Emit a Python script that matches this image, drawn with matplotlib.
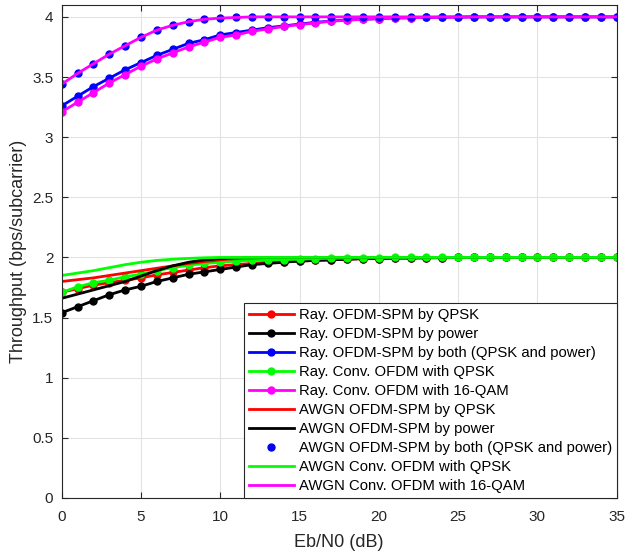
import numpy as np
import matplotlib
matplotlib.use('Agg')
from matplotlib import pyplot as plt

plt.rcParams['font.family'] = ['Liberation Sans', 'DejaVu Sans']

ebn0 = np.arange(0, 36)

def pad(vals, last, n=36):
    return vals + [last] * (n - len(vals))

# Rayleigh curves (with markers)
ray_spm_qpsk = pad([1.71, 1.74, 1.77, 1.79, 1.81, 1.83, 1.855, 1.875, 1.895, 1.915, 1.93, 1.94,
                    1.95, 1.96, 1.965, 1.97, 1.975, 1.98, 1.985, 1.99, 1.99, 1.995, 1.995, 1.997, 1.998], 2.0)
ray_spm_power = pad([1.54, 1.59, 1.64, 1.69, 1.73, 1.76, 1.80, 1.83, 1.86, 1.88, 1.90, 1.92,
                     1.94, 1.95, 1.96, 1.97, 1.975, 1.98, 1.985, 1.99, 1.99, 1.995, 1.995, 1.997, 1.998], 2.0)
ray_spm_both = pad([3.26, 3.34, 3.42, 3.49, 3.56, 3.62, 3.68, 3.73, 3.78, 3.81, 3.85, 3.87, 3.89,
                    3.91, 3.925, 3.94, 3.955, 3.965, 3.975, 3.98, 3.985, 3.99, 3.993, 3.995, 3.997, 3.998], 4.0)
ray_conv_qpsk = pad([1.71, 1.755, 1.79, 1.81, 1.84, 1.86, 1.89, 1.915, 1.935, 1.95, 1.96, 1.97,
                     1.975, 1.98, 1.982, 1.985, 1.99, 1.993, 1.995, 1.997, 1.998], 2.0)
ray_conv_16qam = pad([3.21, 3.29, 3.37, 3.45, 3.52, 3.59, 3.65, 3.70, 3.75, 3.79, 3.83, 3.85, 3.88,
                      3.90, 3.92, 3.936, 3.95, 3.964, 3.972, 3.98, 3.986, 3.99, 3.993, 3.995, 3.997, 3.998], 4.0)

# AWGN curves
awgn_spm_qpsk = pad([1.80, 1.815, 1.83, 1.85, 1.87, 1.89, 1.91, 1.93, 1.95, 1.965, 1.98, 1.99, 1.995], 2.0)
awgn_spm_power = pad([1.66, 1.695, 1.73, 1.765, 1.80, 1.845, 1.89, 1.93, 1.96, 1.98, 1.99, 1.997], 2.0)
awgn_spm_both = pad([3.44, 3.53, 3.61, 3.69, 3.76, 3.83, 3.89, 3.93, 3.96, 3.98, 3.99, 3.995], 4.0)
awgn_conv_qpsk = pad([1.85, 1.87, 1.89, 1.915, 1.94, 1.96, 1.975, 1.985, 1.992, 1.997], 2.0)
awgn_conv_16qam = pad([3.44, 3.53, 3.61, 3.69, 3.76, 3.83, 3.89, 3.93, 3.96, 3.98, 3.99, 3.995], 4.0)

fig = plt.figure(figsize=(6.25, 5.51), dpi=100)
ax = fig.add_axes([0.0987, 0.0962, 0.888, 0.895])

lw = 2.0
ms = 5.0
ax.plot(ebn0, ray_spm_qpsk, '-o', color=(1, 0, 0), lw=lw, ms=ms, label='Ray. OFDM-SPM by QPSK')
ax.plot(ebn0, ray_spm_power, '-o', color='k', lw=lw, ms=ms, label='Ray. OFDM-SPM by power')
ax.plot(ebn0, ray_spm_both, '-o', color=(0, 0, 1), lw=lw, ms=ms,
        label='Ray. OFDM-SPM by both (QPSK and power)')
ax.plot(ebn0, ray_conv_qpsk, '-o', color=(0, 1, 0), lw=lw, ms=ms, label='Ray. Conv. OFDM with QPSK')
ax.plot(ebn0, ray_conv_16qam, '-o', color=(1, 0, 1), lw=lw, ms=ms, label='Ray. Conv. OFDM with 16-QAM')
ax.plot(ebn0, awgn_spm_qpsk, '-', color=(1, 0, 0), lw=lw, label='AWGN OFDM-SPM by QPSK')
ax.plot(ebn0, awgn_spm_power, '-', color='k', lw=lw, label='AWGN OFDM-SPM by power')
ax.plot(ebn0, awgn_spm_both, 'o', color=(0, 0, 1), ms=ms,
        label='AWGN OFDM-SPM by both (QPSK and power)')
ax.plot(ebn0, awgn_conv_qpsk, '-', color=(0, 1, 0), lw=lw, label='AWGN Conv. OFDM with QPSK')
ax.plot(ebn0, awgn_conv_16qam, '-', color=(1, 0, 1), lw=lw, label='AWGN Conv. OFDM with 16-QAM')

ax.set_xlim(0, 35)
ax.set_ylim(0, 4.1)
ax.set_xticks(np.arange(0, 36, 5))
ax.set_yticks(np.arange(0, 4.01, 0.5))
ax.set_yticklabels(['0', '0.5', '1', '1.5', '2', '2.5', '3', '3.5', '4'])
ax.grid(True, color='#e3e3e3', lw=0.8)
ax.set_axisbelow(True)
ax.tick_params(direction='in', top=True, right=True, labelsize=11, colors='#262626', length=4)
ax.tick_params(axis='x', pad=9)
ax.tick_params(axis='y', pad=6)
for s in ax.spines.values():
    s.set_color('#262626')
    s.set_linewidth(0.8)
ax.set_xlabel('Eb/N0 (dB)', fontsize=13, color='#262626', labelpad=7)
ax.set_ylabel('Throughput (bps/subcarrier)', fontsize=13, color='#262626', labelpad=4)

leg = ax.legend(loc='lower right', fontsize=10.7, handlelength=3.0, handletextpad=0.34,
                borderaxespad=0.0, labelspacing=0.34, fancybox=False, framealpha=1,
                borderpad=0.32)
leg.get_frame().set_edgecolor('#262626')
leg.get_frame().set_linewidth(0.8)

fig.savefig('out.png', dpi=100)
